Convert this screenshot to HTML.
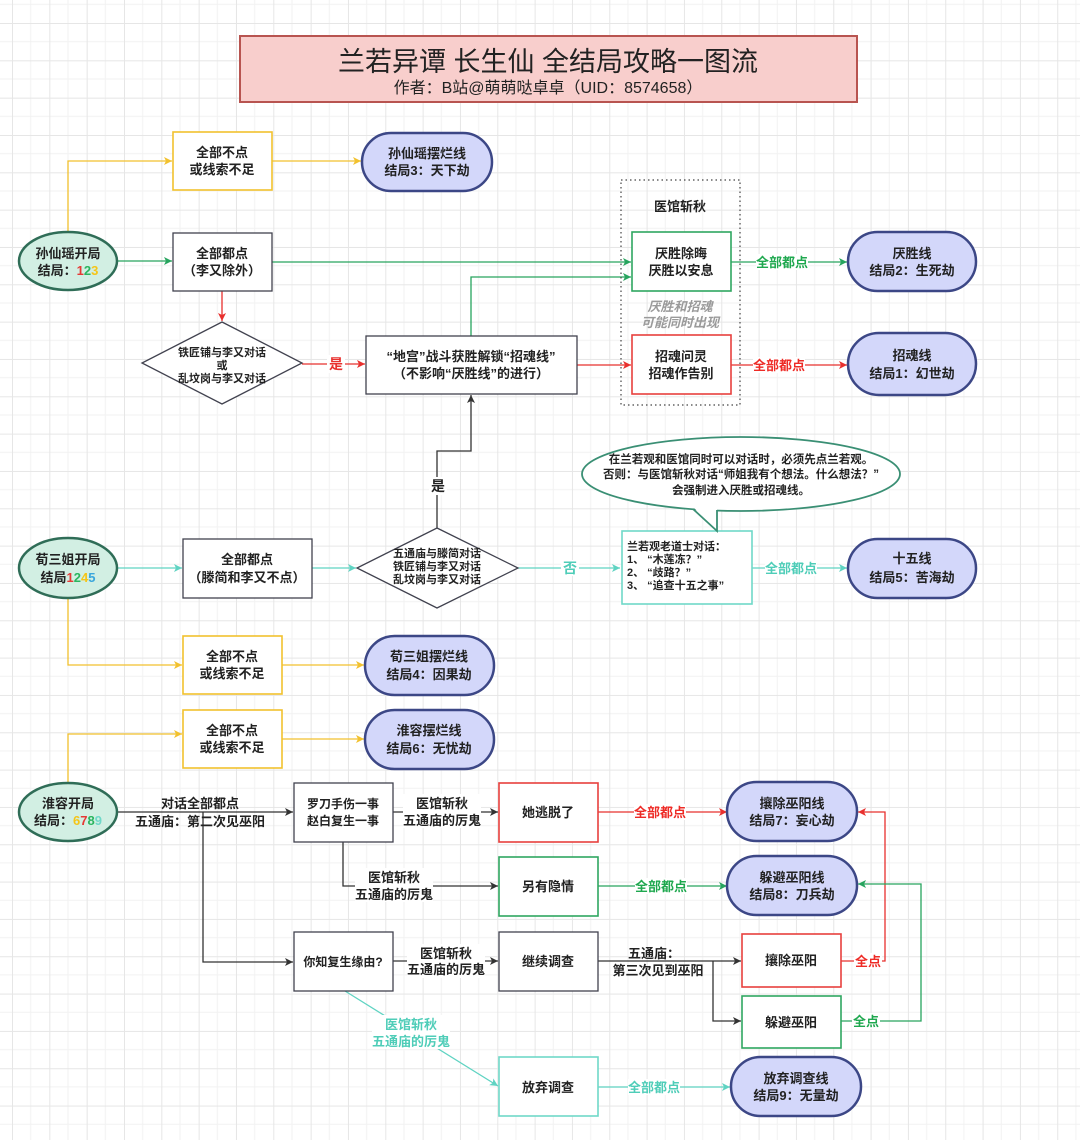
<!DOCTYPE html>
<html><head><meta charset="utf-8">
<style>
html,body{margin:0;padding:0;background:#fff;}
svg{display:block;}
text{font-family:"Liberation Sans","Noto Sans CJK SC",sans-serif;fill:#222;}
.n{font-size:13px;font-weight:bold;text-anchor:middle;}
.s{font-size:11px;font-weight:bold;text-anchor:middle;}
.l{font-size:13px;font-weight:bold;text-anchor:middle;}
</style></head>
<body>
<svg width="1080" height="1140" viewBox="0 0 1080 1140" xmlns="http://www.w3.org/2000/svg">
<defs>
<pattern id="g" x="12" y="23" width="37.33" height="37.33" patternUnits="userSpaceOnUse">
<path d="M18.67 0V37.33M0 18.67H37.33" stroke="#f2f2f2" stroke-width="1"/>
<path d="M0.5 0V37.33M0 0.5H37.33" stroke="#e6e6e6" stroke-width="1"/>
</pattern>
<marker id="aK" viewBox="0 0 10 10" refX="10" refY="5" markerWidth="8" markerHeight="8" markerUnits="userSpaceOnUse" orient="auto"><path d="M0,0 L10,5 L0,10 L2.5,5 z" fill="#333"/></marker>
<marker id="aR" viewBox="0 0 10 10" refX="10" refY="5" markerWidth="8" markerHeight="8" markerUnits="userSpaceOnUse" orient="auto"><path d="M0,0 L10,5 L0,10 L2.5,5 z" fill="#e8302e"/></marker>
<marker id="aG" viewBox="0 0 10 10" refX="10" refY="5" markerWidth="8" markerHeight="8" markerUnits="userSpaceOnUse" orient="auto"><path d="M0,0 L10,5 L0,10 L2.5,5 z" fill="#27a45e"/></marker>
<marker id="aT" viewBox="0 0 10 10" refX="10" refY="5" markerWidth="8" markerHeight="8" markerUnits="userSpaceOnUse" orient="auto"><path d="M0,0 L10,5 L0,10 L2.5,5 z" fill="#5fd3c2"/></marker>
<marker id="aY" viewBox="0 0 10 10" refX="10" refY="5" markerWidth="8" markerHeight="8" markerUnits="userSpaceOnUse" orient="auto"><path d="M0,0 L10,5 L0,10 L2.5,5 z" fill="#f2c12e"/></marker>
</defs>
<rect width="1080" height="1140" fill="#fff"/>
<rect width="1080" height="1140" fill="url(#g)"/>

<!-- Title -->
<rect x="240" y="36" width="617" height="66" fill="#f8cecc" stroke="#b85450" stroke-width="2"/>
<text x="548" y="71" font-size="27" text-anchor="middle" fill="#222">兰若异谭 长生仙 全结局攻略一图流</text>
<text x="548" y="93" font-size="16" text-anchor="middle" fill="#444">作者：B站@萌萌哒卓卓（UID：8574658）</text>

<!-- ===== connectors ===== -->
<g fill="none" stroke-width="1.3">
<!-- row1 -->
<path d="M68 232V161H172" stroke="#f2c12e" marker-end="url(#aY)"/>
<path d="M272 161H361" stroke="#f2c12e" marker-end="url(#aY)"/>
<path d="M117 261H172" stroke="#27a45e" marker-end="url(#aG)"/>
<path d="M272 262H631" stroke="#27a45e" marker-end="url(#aG)"/>
<path d="M222 291V321" stroke="#e8302e" marker-end="url(#aR)"/>
<path d="M302 364H365" stroke="#e8302e" marker-end="url(#aR)"/>
<path d="M471 336V277H631" stroke="#27a45e" marker-end="url(#aG)"/>
<path d="M577 365H631" stroke="#e8302e" marker-end="url(#aR)"/>
<path d="M731 262H847" stroke="#27a45e" marker-end="url(#aG)"/>
<path d="M731 365H847" stroke="#e8302e" marker-end="url(#aR)"/>
<!-- row3 -->
<path d="M117 568H182" stroke="#5fd3c2" marker-end="url(#aT)"/>
<path d="M312 568H356" stroke="#5fd3c2" marker-end="url(#aT)"/>
<path d="M518 568H620" stroke="#5fd3c2" marker-end="url(#aT)"/>
<path d="M751 568H847" stroke="#5fd3c2" marker-end="url(#aT)"/>
<path d="M437 528V451H471V395" stroke="#333" marker-end="url(#aK)"/>
<path d="M68 598V665H182" stroke="#f2c12e" marker-end="url(#aY)"/>
<path d="M282 665H364" stroke="#f2c12e" marker-end="url(#aY)"/>
<!-- row4 -->
<path d="M68 783V734H182" stroke="#f2c12e" marker-end="url(#aY)"/>
<path d="M282 739H364" stroke="#f2c12e" marker-end="url(#aY)"/>
<path d="M117 812H293" stroke="#333" marker-end="url(#aK)"/>
<path d="M203 812V962H293" stroke="#333" marker-end="url(#aK)"/>
<path d="M393 812H498" stroke="#333" marker-end="url(#aK)"/>
<path d="M343 842V886H498" stroke="#333" marker-end="url(#aK)"/>
<path d="M393 961H498" stroke="#333" marker-end="url(#aK)"/>
<path d="M598 812H727" stroke="#e8302e" marker-end="url(#aR)"/>
<path d="M598 886H727" stroke="#27a45e" marker-end="url(#aG)"/>
<path d="M598 961H741" stroke="#333" marker-end="url(#aK)"/>
<path d="M713 961V1021H741" stroke="#333" marker-end="url(#aK)"/>
<path d="M841 961H885V812H858" stroke="#e8302e" marker-end="url(#aR)"/>
<path d="M841 1021H921V884H858" stroke="#27a45e" marker-end="url(#aG)"/>
<path d="M345 991L498 1086" stroke="#5fd3c2" marker-end="url(#aT)"/>
<path d="M598 1087H730" stroke="#5fd3c2" marker-end="url(#aT)"/>
</g>

<!-- ===== connector labels ===== -->
<rect x="327" y="355" width="18" height="18" fill="#fff"/>
<text x="336" y="369" font-size="14" font-weight="bold" text-anchor="middle" fill="#e8302e" style="fill:#e8302e">是</text>
<rect x="756" y="254" width="52" height="16" fill="#fff"/>
<text class="l" x="782" y="267" style="fill:#1fa84f">全部都点</text>
<rect x="753" y="357" width="52" height="16" fill="#fff"/>
<text class="l" x="779" y="370" style="fill:#ee2b26">全部都点</text>
<rect x="429" y="477" width="18" height="18" fill="#fff"/>
<text x="438" y="491" font-size="14" font-weight="bold" text-anchor="middle">是</text>
<rect x="561" y="560" width="18" height="16" fill="#fff"/>
<text x="570" y="573" font-size="14" font-weight="bold" text-anchor="middle" style="fill:#4fcdb8">否</text>
<rect x="765" y="560" width="52" height="16" fill="#fff"/>
<text class="l" x="791" y="573" style="fill:#4fcdb8">全部都点</text>

<text class="n" x="200" y="808">对话全部都点</text>
<text class="n" x="200" y="826">五通庙：第二次见巫阳</text>
<rect x="403" y="794" width="78" height="34" fill="#fff"/>
<text class="n" x="442" y="808">医馆斩秋</text>
<text class="n" x="442" y="825">五通庙的厉鬼</text>
<rect x="355" y="868" width="78" height="34" fill="#fff"/>
<text class="n" x="394" y="882">医馆斩秋</text>
<text class="n" x="394" y="899">五通庙的厉鬼</text>
<rect x="407" y="944" width="78" height="34" fill="#fff"/>
<text class="n" x="446" y="958">医馆斩秋</text>
<text class="n" x="446" y="974">五通庙的厉鬼</text>
<rect x="372" y="1015" width="78" height="34" fill="#fff"/>
<text class="n" x="411" y="1029" style="fill:#4fcdb8">医馆斩秋</text>
<text class="n" x="411" y="1046" style="fill:#4fcdb8">五通庙的厉鬼</text>
<rect x="634" y="804" width="52" height="16" fill="#fff"/>
<text class="l" x="660" y="817" style="fill:#ee2b26">全部都点</text>
<rect x="635" y="878" width="52" height="16" fill="#fff"/>
<text class="l" x="661" y="891" style="fill:#1fa84f">全部都点</text>
<text class="n" x="654" y="958">五通庙：</text>
<text class="n" x="658" y="975">第三次见到巫阳</text>
<rect x="854" y="953" width="28" height="16" fill="#fff"/>
<text class="l" x="868" y="966" style="fill:#ee2b26">全点</text>
<rect x="852" y="1013" width="28" height="16" fill="#fff"/>
<text class="l" x="866" y="1026" style="fill:#1fa84f">全点</text>
<rect x="628" y="1079" width="52" height="16" fill="#fff"/>
<text class="l" x="654" y="1092" style="fill:#4fcdb8">全部都点</text>

<!-- ===== nodes ===== -->
<!-- ellipses -->
<g fill="#d2efe3" stroke="#2f6d57" stroke-width="2.5">
<ellipse cx="68" cy="261" rx="49" ry="29"/>
<ellipse cx="68" cy="568" rx="49" ry="30"/>
<ellipse cx="68" cy="812" rx="49" ry="29"/>
</g>
<text class="n" x="68" y="258">孙仙瑶开局</text>
<text class="n" x="68" y="275">结局：<tspan style="fill:#e53935">1</tspan><tspan style="fill:#2bb55f">2</tspan><tspan style="fill:#f5c518">3</tspan></text>
<text class="n" x="68" y="564">荀三姐开局</text>
<text class="n" x="68" y="582">结局<tspan style="fill:#e53935">1</tspan><tspan style="fill:#2bb55f">2</tspan><tspan style="fill:#f5c518">4</tspan><tspan style="fill:#3aa6dc">5</tspan></text>
<text class="n" x="68" y="808">淮容开局</text>
<text class="n" x="68" y="825">结局：<tspan style="fill:#f5c518">6</tspan><tspan style="fill:#e53935">7</tspan><tspan style="fill:#2bb55f">8</tspan><tspan style="fill:#6fd8c8">9</tspan></text>

<!-- yellow boxes -->
<g fill="#fff" stroke="#f2c12e" stroke-width="1.6">
<rect x="173" y="132" width="99" height="58"/>
<rect x="183" y="636" width="99" height="58"/>
<rect x="183" y="710" width="99" height="58"/>
</g>
<text class="n" x="222" y="157">全部不点</text>
<text class="n" x="222" y="174">或线索不足</text>
<text class="n" x="232" y="661">全部不点</text>
<text class="n" x="232" y="678">或线索不足</text>
<text class="n" x="232" y="735">全部不点</text>
<text class="n" x="232" y="752">或线索不足</text>

<!-- dark boxes -->
<g fill="#fff" stroke="#41424f" stroke-width="1.3">
<rect x="173" y="233" width="99" height="58"/>
<rect x="366" y="336" width="211" height="58"/>
<rect x="183" y="539" width="129" height="59"/>
<rect x="294" y="783" width="99" height="59"/>
<rect x="294" y="932" width="99" height="59"/>
<rect x="499" y="932" width="99" height="59"/>
<polygon points="222,322 302,363 222,404 142,363"/>
<polygon points="437,528 518,568 437,608 357,568"/>
</g>
<text class="n" x="222" y="258">全部都点</text>
<text class="n" x="222" y="275">（李又除外）</text>
<text class="n" x="471" y="361">“地宫”战斗获胜解锁“招魂线”</text>
<text class="n" x="471" y="378">（不影响“厌胜线”的进行）</text>
<text class="n" x="247" y="564">全部都点</text>
<text class="n" x="247" y="582">（滕简和李又不点）</text>
<text class="n" x="343" y="808" font-size="12" style="font-size:12px">罗刀手伤一事</text>
<text class="n" x="343" y="825" style="font-size:12px">赵白复生一事</text>
<text class="n" x="343" y="966" style="font-size:12px">你知复生缘由?</text>
<text class="n" x="548" y="966">继续调查</text>
<text class="s" x="222" y="356">铁匠铺与李又对话</text>
<text class="s" x="222" y="369">或</text>
<text class="s" x="222" y="382">乱坟岗与李又对话</text>
<text class="s" x="437" y="557">五通庙与滕简对话</text>
<text class="s" x="437" y="570">铁匠铺与李又对话</text>
<text class="s" x="437" y="583">乱坟岗与李又对话</text>

<!-- dotted group -->
<rect x="621" y="180" width="119" height="225" fill="none" stroke="#444" stroke-width="1.2" stroke-dasharray="1.5 3"/>
<text class="n" x="680" y="211">医馆斩秋</text>
<text class="n" x="680" y="311" font-style="italic" style="fill:#9a9a9a">厌胜和招魂</text>
<text class="n" x="680" y="327" font-style="italic" style="fill:#9a9a9a">可能同时出现</text>

<!-- green boxes -->
<g fill="#fff" stroke="#2fa760" stroke-width="1.6">
<rect x="632" y="232" width="99" height="59"/>
<rect x="499" y="857" width="99" height="59"/>
<rect x="742" y="996" width="99" height="52"/>
</g>
<text class="n" x="681" y="258">厌胜除晦</text>
<text class="n" x="681" y="275">厌胜以安息</text>
<text class="n" x="548" y="891">另有隐情</text>
<text class="n" x="791" y="1027">躲避巫阳</text>

<!-- red boxes -->
<g fill="#fff" stroke="#e8403d" stroke-width="1.6">
<rect x="632" y="335" width="99" height="59"/>
<rect x="499" y="783" width="99" height="59"/>
<rect x="742" y="934" width="99" height="53"/>
</g>
<text class="n" x="681" y="361">招魂问灵</text>
<text class="n" x="681" y="378">招魂作告别</text>
<text class="n" x="548" y="817">她逃脱了</text>
<text class="n" x="791" y="965">攘除巫阳</text>

<!-- teal boxes -->
<g fill="#fff" stroke="#6fd8c8" stroke-width="1.6">
<rect x="622" y="531" width="130" height="73"/>
<rect x="499" y="1057" width="99" height="59"/>
</g>
<g font-size="11" font-weight="bold">
<text x="627" y="550">兰若观老道士对话：</text>
<text x="627" y="563">1、 “木莲冻？”</text>
<text x="627" y="576">2、 “歧路？”</text>
<text x="627" y="589">3、 “追查十五之事”</text>
</g>
<text class="n" x="548" y="1092">放弃调查</text>

<!-- speech bubble -->
<ellipse cx="741" cy="474" rx="159" ry="37" fill="#fff" stroke="#3a8f74" stroke-width="1.8"/>
<polygon points="692,506 717,530 717,508" fill="#fff"/>
<path d="M693 509L717 531V510" fill="none" stroke="#3a8f74" stroke-width="1.8"/>
<g font-size="11.5" font-weight="bold" text-anchor="middle">
<text x="741" y="463">在兰若观和医馆同时可以对话时，必须先点兰若观。</text>
<text x="741" y="478">否则：与医馆斩秋对话“师姐我有个想法。什么想法？”</text>
<text x="741" y="494">会强制进入厌胜或招魂线。</text>
</g>

<!-- pills -->
<g fill="#d3d7fa" stroke="#3c4786" stroke-width="2.5">
<rect x="362" y="133" width="130" height="58" rx="29"/>
<rect x="848" y="232" width="128" height="59" rx="29.5"/>
<rect x="848" y="333" width="128" height="62" rx="31"/>
<rect x="848" y="539" width="128" height="59" rx="29.5"/>
<rect x="365" y="636" width="129" height="59" rx="29.5"/>
<rect x="365" y="710" width="129" height="59" rx="29.5"/>
<rect x="727" y="782" width="130" height="59" rx="29.5"/>
<rect x="727" y="856" width="130" height="59" rx="29.5"/>
<rect x="731" y="1057" width="130" height="59" rx="29.5"/>
</g>
<text class="n" x="427" y="158">孙仙瑶摆烂线</text>
<text class="n" x="427" y="175">结局3：天下劫</text>
<text class="n" x="912" y="258">厌胜线</text>
<text class="n" x="912" y="275">结局2：生死劫</text>
<text class="n" x="912" y="360">招魂线</text>
<text class="n" x="912" y="378">结局1：幻世劫</text>
<text class="n" x="912" y="563">十五线</text>
<text class="n" x="912" y="582">结局5：苦海劫</text>
<text class="n" x="429" y="661">荀三姐摆烂线</text>
<text class="n" x="429" y="679">结局4：因果劫</text>
<text class="n" x="429" y="735">淮容摆烂线</text>
<text class="n" x="429" y="753">结局6：无忧劫</text>
<text class="n" x="792" y="808">攘除巫阳线</text>
<text class="n" x="792" y="825">结局7：妄心劫</text>
<text class="n" x="792" y="882">躲避巫阳线</text>
<text class="n" x="792" y="899">结局8：刀兵劫</text>
<text class="n" x="796" y="1083">放弃调查线</text>
<text class="n" x="796" y="1100">结局9：无量劫</text>
</svg>
</body></html>
